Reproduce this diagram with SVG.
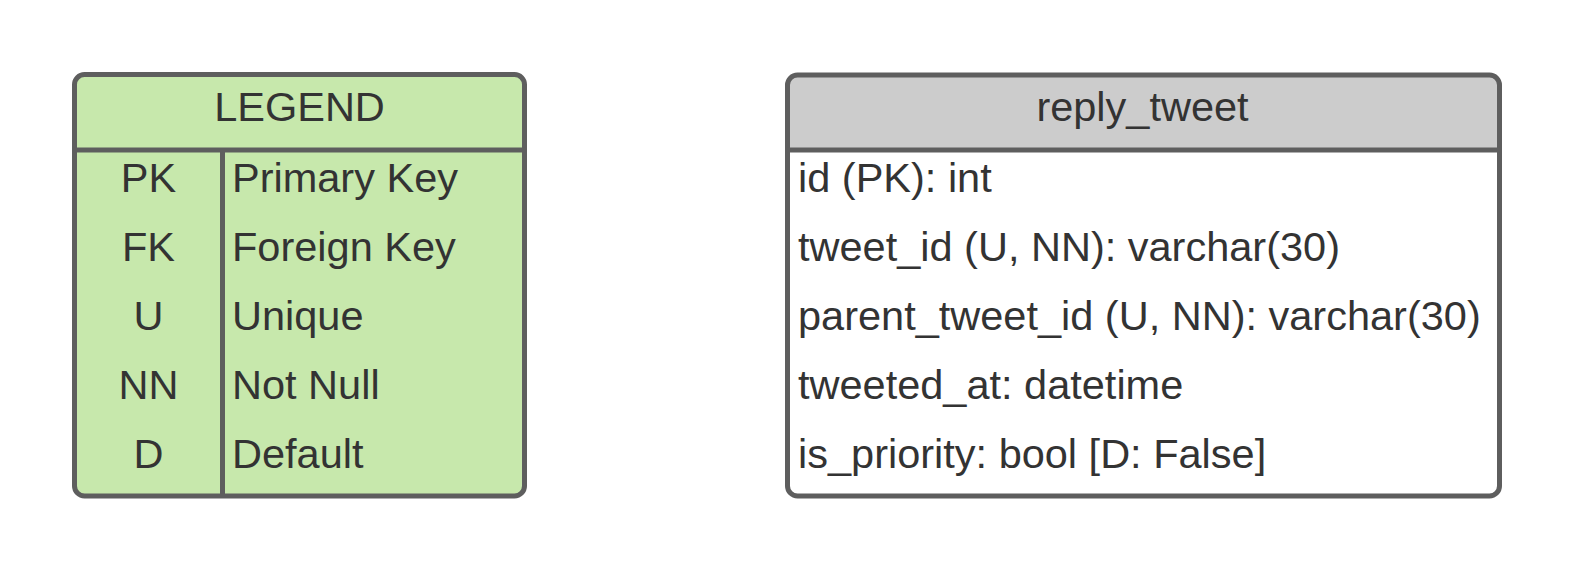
<svg xmlns="http://www.w3.org/2000/svg" width="1575" height="572" viewBox="0 0 1575 572">
<style>
.box{stroke:#5e5e5e;stroke-width:5}
.ln{stroke:#5e5e5e;stroke-width:5;fill:none}
text{font-family:"Liberation Sans",Arial,sans-serif;font-size:41.5px;fill:#333333}
.c{text-anchor:middle}
</style>
<rect width="1575" height="572" fill="#ffffff"/>
<g id="legend">
<rect class="box" x="74.5" y="74.5" width="450" height="421.5" rx="10" fill="#c7e8ac"/>
<line class="ln" x1="74.5" y1="150" x2="524.5" y2="150"/>
<line class="ln" x1="222.5" y1="150" x2="222.5" y2="496"/>
<text class="c" x="299.5" y="121">LEGEND</text>
<text class="c" x="148.5" y="192">PK</text>
<text x="232" y="192">Primary Key</text>
<text class="c" x="148.5" y="261">FK</text>
<text x="232" y="261">Foreign Key</text>
<text class="c" x="148.5" y="330">U</text>
<text x="232" y="330">Unique</text>
<text class="c" x="148.5" y="399">NN</text>
<text x="232" y="399">Not Null</text>
<text class="c" x="148.5" y="468">D</text>
<text x="232" y="468">Default</text>
</g>
<g id="reply_tweet">
<path d="M787.5,150 V85 a10,10 0 0 1 10,-10 H1489.5 a10,10 0 0 1 10,10 V150 Z" fill="#cccccc"/>
<rect class="box" x="787.5" y="75" width="712" height="421" rx="10" fill="none"/>
<line class="ln" x1="787.5" y1="150" x2="1499.5" y2="150"/>
<text class="c" x="1142.5" y="121">reply_tweet</text>
<text x="798" y="192">id (PK): int</text>
<text x="798" y="261">tweet_id (U, NN): varchar(30)</text>
<text x="798" y="330">parent_tweet_id (U, NN): varchar(30)</text>
<text x="798" y="399">tweeted_at: datetime</text>
<text x="798" y="468">is_priority: bool [D: False]</text>
</g>
<g id="connectors"></g>
</svg>
